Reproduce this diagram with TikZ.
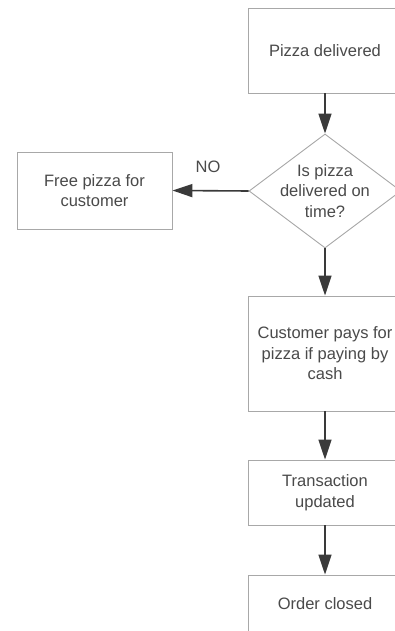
\documentclass[tikz,border=0pt]{standalone}
\usepackage{fontspec}
\setmainfont{Liberation Sans}
\usetikzlibrary{shapes.geometric,arrows.meta}
\definecolor{txt}{HTML}{4A4A4A}
\definecolor{bord}{HTML}{A8A8A8}
\definecolor{arr}{HTML}{3A3A3A}
\begin{document}
\begin{tikzpicture}[x=1pt,y=1pt,
  lbl/.style={text=txt,font=\fontsize{16.5}{20.5}\selectfont,align=center},
  box/.style={lbl,draw=bord,line width=0.9pt,fill=white,inner sep=0pt,minimum width=154pt},
  flow/.style={draw=arr,line width=1.6pt,-{Triangle[length=20pt,width=13pt]}}]
\clip (0,0) rectangle (395,-631);
\fill[white] (0,0) rectangle (395,-631);
\node[box,minimum height=85pt] (pd) at (325,-50.5) {Pizza delivered};
\node[draw=bord,line width=0.9pt,diamond,inner sep=0pt,minimum width=152pt,minimum height=114pt] (dec) at (325,-191) {};
\node[lbl] (dect) at (dec.center) {Is pizza\\delivered on\\time?};
\node[box,minimum width=155pt,minimum height=77pt] (free) at (94.5,-190.5) {Free pizza for\\customer};
\node[lbl] (no) at (208,-167) {NO};
\node[box,minimum height=115pt] (cust) at (325,-353.5) {Customer pays for\\pizza if paying by\\cash};
\node[box,minimum height=65pt] (trans) at (325,-492.5) {Transaction\\updated};
\node[box,minimum height=57pt] (order) at (325,-603.5) {Order closed};
\draw[flow] (pd.south) -- (dec.north);
\draw[flow] (dec.west) -- (free.east);
\draw[flow] (dec.south) -- (cust.north);
\draw[flow] (cust.south) -- (trans.north);
\draw[flow] (trans.south) -- (order.north);
\end{tikzpicture}
\end{document}
